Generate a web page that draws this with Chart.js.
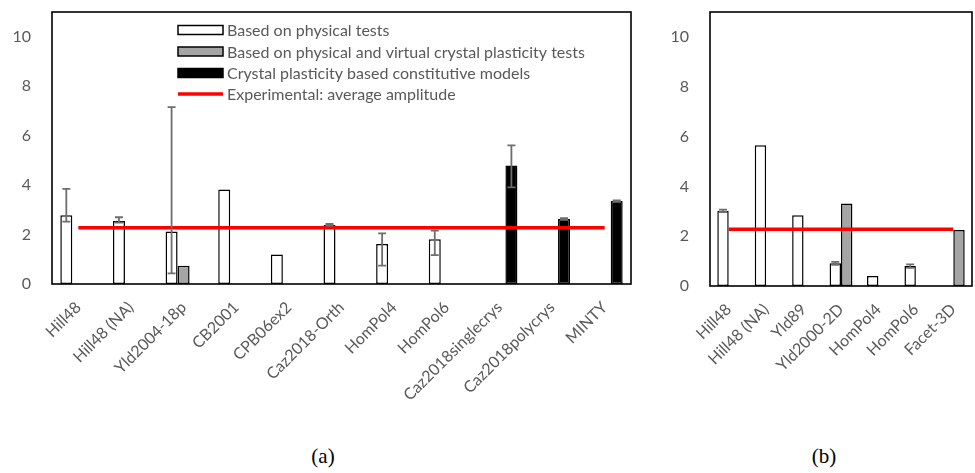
<!DOCTYPE html>
<html>
<head>
<meta charset="utf-8">
<script src="https://cdn.jsdelivr.net/npm/chart.js@4/dist/chart.umd.min.js"></script>
<style>
    body { margin: 0; background: #fff; width: 975px; height: 473px; position: relative; overflow: hidden; }
    .box { position: absolute; top: 0; height: 420px; }
    #boxA { left: 0; width: 645px; }
    #boxB { left: 650px; width: 325px; }
    .caption { position: absolute; top: 444px; width: 80px; text-align: center;
               font-family: "Liberation Serif", serif; font-size: 21px; color: #000; }
</style>
</head>
<body>
<div class="box" id="boxA"><canvas id="chartA"></canvas></div>
<div class="box" id="boxB"><canvas id="chartB"></canvas></div>
<div class="caption" style="left:283px">(a)</div>
<div class="caption" style="left:784px">(b)</div>

<script>
// ---- chart (a) data ----
const catsA = ['Hill48', 'Hill48 (NA)', 'Yld2004-18p', 'CB2001', 'CPB06ex2', 'Caz2018-Orth',
               'HomPol4', 'HomPol6', 'Caz2018singlecrys', 'Caz2018polycrys', 'MINTY'];
const physA = [2.78, 2.55, 2.12, 3.82, 1.19, 2.39, 1.62, 1.81, null, null, null];
const virtA = [null, null, 0.74, null, null, null, null, null, null, null, null];
const cpA   = [null, null, null, null, null, null, null, null, 4.79, 2.63, 3.36];
const expA  = [2.27, 2.27, 2.27, 2.27, 2.27, 2.27, 2.27, 2.27, 2.27, 2.27, 2.27];
const physLowA  = [2.52, 2.48, 0.43, null, null, 2.36, 0.74, 1.17, null, null, null];
const physHighA = [3.85, 2.70, 7.15, null, null, 2.43, 2.05, 2.16, null, null, null];
const cpLowA    = [null, null, null, null, null, null, null, null, 3.91, 2.60, 3.33];
const cpHighA   = [null, null, null, null, null, null, null, null, 5.61, 2.66, 3.38];

// ---- chart (b) data ----
const catsB = ['Hill48', 'Hill48 (NA)', 'Yld89', 'Yld2000-2D', 'HomPol4', 'HomPol6', 'Facet-3D'];
const physB = [3.02, 5.65, 2.84, 0.91, 0.40, 0.80, null];
const virtB = [null, null, null, 3.31, null, null, 2.25];
const expB  = [2.28, 2.28, 2.28, 2.28, 2.28, 2.28, 2.28];
const physLowB  = [2.97, null, null, 0.85, null, 0.73, null];
const physHighB = [3.07, null, null, 0.97, null, 0.87, null];

const yTicks = [0, 2, 4, 6, 8, 10];

const legendLabels = ['Based on physical tests',
                      'Based on physical and virtual crystal plasticity tests',
                      'Crystal plasticity based constitutive models',
                      'Experimental: average amplitude'];

const textGray = '#595959';
const fillWhite = '#ffffff';
const fillGray = '#a5a5a5';
const fillBlack = '#000000';
const expRed = '#ff0000';

function barSet(label, data, fill, low, high) {
    return {
        type: 'bar', label: label, data: data, order: 2,
        backgroundColor: fill, borderColor: '#000', borderWidth: 1.5,
        borderSkipped: false, errLow: low, errHigh: high
    };
}

function lineSet(label, data) {
    return {
        type: 'line', label: label, data: data, order: 0,
        borderColor: expRed, borderWidth: 3.5, pointRadius: 0, fill: false
    };
}

// frame around the plot area + error bars
const frameAndErrors = {
    id: 'frameAndErrors',
    afterDatasetsDraw(chart) {
        const ctx = chart.ctx;
        const area = chart.chartArea;
        const y = chart.scales.y;
        ctx.save();
        chart.data.datasets.forEach((ds, i) => {
            if (!ds.errLow) return;
            const meta = chart.getDatasetMeta(i);
            meta.data.forEach((bar, j) => {
                if (ds.errLow[j] == null) return;
                const x = bar.x;
                const y1 = y.getPixelForValue(ds.errLow[j]);
                const y2 = y.getPixelForValue(ds.errHigh[j]);
                ctx.strokeStyle = '#6e6e6e';
                ctx.lineWidth = 1.8;
                ctx.beginPath();
                ctx.moveTo(x, y1); ctx.lineTo(x, y2);
                ctx.moveTo(x - 4, y1); ctx.lineTo(x + 4, y1);
                ctx.moveTo(x - 4, y2); ctx.lineTo(x + 4, y2);
                ctx.stroke();
            });
        });
        ctx.strokeStyle = '#000';
        ctx.lineWidth = 1.6;
        ctx.strokeRect(area.left, area.top, area.right - area.left, area.bottom - area.top);
        ctx.restore();
    }
};

// legend drawn inside the plot area of chart (a)
const insideLegend = {
    id: 'insideLegend',
    afterDraw(chart) {
        if (!chart.options.plugins.insideLegend.show) return;
        const ctx = chart.ctx;
        const x0 = 178, x1 = 223, rows = [30, 51.5, 73, 94];
        const fills = [fillWhite, fillGray, fillBlack];
        ctx.save();
        for (let i = 0; i < 3; i++) {
            ctx.fillStyle = fills[i];
            ctx.fillRect(x0, rows[i] - 4.5, x1 - x0, 9);
            ctx.strokeStyle = '#000';
            ctx.lineWidth = 1.5;
            ctx.strokeRect(x0, rows[i] - 4.5, x1 - x0, 9);
        }
        ctx.strokeStyle = expRed;
        ctx.lineWidth = 3.5;
        ctx.beginPath();
        ctx.moveTo(x0, rows[3]); ctx.lineTo(x1, rows[3]);
        ctx.stroke();
        ctx.fillStyle = textGray;
        ctx.font = '16px Lato';
        ctx.textBaseline = 'middle';
        legendLabels.forEach((t, i) => ctx.fillText(t, 227, rows[i] + 1));
        ctx.restore();
    }
};

function makeChart(canvasId, cats, datasets, catPct, yWidth, xHeight, padRight, showLegend) {
    return new Chart(document.getElementById(canvasId), {
        data: { labels: cats, datasets: datasets },
        options: {
            responsive: true,
            maintainAspectRatio: false,
            animation: false,
            datasets: { bar: { categoryPercentage: catPct, barPercentage: 1 } },
            layout: { padding: { top: 12, right: padRight, left: 0, bottom: 0 } },
            plugins: {
                legend: { display: false },
                tooltip: { enabled: false },
                insideLegend: { show: showLegend }
            },
            scales: {
                x: {
                    grid: { display: false },
                    border: { display: false },
                    ticks: {
                        color: textGray, font: { family: 'Lato', size: 16 },
                        minRotation: 45, maxRotation: 45, autoSkip: false, padding: 6
                    },
                    afterFit: (s) => { s.height = xHeight; s.paddingLeft = 0; s.paddingRight = 0; }
                },
                y: {
                    min: 0, max: 11,
                    grid: { display: false },
                    border: { display: false },
                    ticks: { color: textGray, font: { family: 'Lato', size: 16 }, padding: 13, stepSize: 2 },
                    afterBuildTicks: (s) => { s.ticks = yTicks.map(v => ({ value: v })); },
                    afterFit: (s) => { s.width = yWidth; s.paddingTop = 0; s.paddingBottom = 0; }
                }
            }
        },
        plugins: [frameAndErrors, insideLegend]
    });
}

makeChart('chartA', catsA, [
    barSet(legendLabels[0], physA, fillWhite, physLowA, physHighA),
    barSet(legendLabels[1], virtA, fillGray, null, null),
    barSet(legendLabels[2], cpA, fillBlack, cpLowA, cpHighA),
    lineSet(legendLabels[3], expA)
], 0.684, 52, 136, 14, true);

makeChart('chartB', catsB, [
    barSet(legendLabels[0], physB, fillWhite, physLowB, physHighB),
    barSet(legendLabels[1], virtB, fillGray, null, null),
    lineSet(legendLabels[3], expB)
], 0.61, 60, 134, 3, false);
</script>
</body>
</html>
